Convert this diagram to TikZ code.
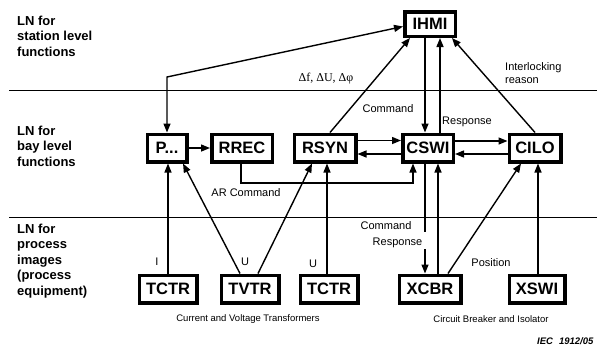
\documentclass[tikz,border=0pt]{standalone}
\usepackage{fontspec}
\setmainfont{Liberation Sans}
\newfontfamily\grserif{Liberation Serif}
\usetikzlibrary{arrows.meta,calc}
\begin{document}
\begin{tikzpicture}[x=1pt,y=-1pt,
  lnbox/.style={draw, line width=3.5pt, font=\bfseries\fontsize{16.5}{18}\selectfont,
    minimum height=27.5pt, inner sep=0pt},
  arr/.style={line width=1.4pt, -{Triangle[length=9pt,width=7pt]}},
  darr/.style={line width=1.4pt, {Triangle[length=9pt,width=7pt]}-{Triangle[length=9pt,width=7pt]}},
  conn/.style={line width=1.4pt},
  sep/.style={line width=0.8pt},
  lbl/.style={font=\fontsize{11}{13}\selectfont, inner sep=0pt},
  small/.style={font=\fontsize{9.5}{11}\selectfont, inner sep=0pt},
  lvl/.style={font=\bfseries\fontsize{13}{15.5}\selectfont, align=left, inner sep=0pt, anchor=north west}]
\useasboundingbox (0,0) rectangle (597,346);

% level separators
\coordinate (s1a) at (9,90);  \coordinate (s1b) at (597,90);
\coordinate (s2a) at (9,217); \coordinate (s2b) at (597,217);
\draw[sep] (s1a) -- (s1b);
\draw[sep] (s2a) -- (s2b);

% level labels
\node[lvl] (L1) at (17,15.5) {LN for\\station level\\functions};
\node[lvl] (L2) at (17,125.5) {LN for\\bay level\\functions};
\node[lvl] (L3) at (17,223.5) {LN for\\process\\images\\(process\\equipment)};

% boxes
\node[lnbox, minimum width=50.5pt, minimum height=24.5pt] (IHMI) at (430,24) {IHMI};
\node[lnbox, minimum width=39.5pt] (P) at (167,148) {P...};
\node[lnbox, minimum width=60.5pt] (RREC) at (242,148) {RREC};
\node[lnbox, minimum width=61.5pt] (RSYN) at (325,148) {RSYN};
\node[lnbox, minimum width=50.5pt] (CSWI) at (428,148) {CSWI};
\node[lnbox, minimum width=51.5pt] (CILO) at (535,148) {CILO};
\node[lnbox, minimum width=57.5pt] (TCTRa) at (168,289) {TCTR};
\node[lnbox, minimum width=57.5pt] (TVTR) at (250,289) {TVTR};
\node[lnbox, minimum width=57.5pt] (TCTRb) at (329,289) {TCTR};
\node[lnbox, minimum width=61.5pt] (XCBR) at (430,289) {XCBR};
\node[lnbox, minimum width=55.5pt] (XSWI) at (537,289) {XSWI};

% labels
\node[inner sep=0pt, font=\grserif\fontsize{12}{14}\selectfont] (dl) at (326,79) {Δf, ΔU, Δφ};
\node[lbl, anchor=west, align=left] (ilr) at (505,73.5) {Interlocking\\reason};
\node[lbl] (cmd1) at (388,109) {Command};
\node[lbl] (rsp1) at (467,122) {Response};
\node[lbl] (arc) at (246,193) {AR Command};
\node[lbl] (cmd2) at (386,226) {Command};
\node[lbl, fill=white, inner xsep=3pt, inner ysep=2pt] (rsp2) at (397.5,243) {Response};
\node[lbl] (li) at (157,262) {I};
\node[lbl] (lu1) at (245,262) {U};
\node[lbl] (lu2) at (313,264) {U};
\node[lbl] (pos) at (491,263) {Position};
\node[small] (cvt) at (248,319) {Current and Voltage Transformers};
\node[small] (cbi) at (491,319) {Circuit Breaker and Isolator};
\node[inner sep=0pt, anchor=base west, font=\bfseries\itshape\fontsize{9.5}{11}\selectfont] (iec) at (537,344.5) {IEC\hspace{6pt}1912/05};

% connectors
\coordinate (bend) at (167,77);
\draw[darr] ([yshift=-2.5pt]IHMI.west) -- (bend) -- (P.north);
\draw[arr] ([xshift=5pt]RSYN.north) -- ([xshift=-20pt]IHMI.south);
\draw[arr] ([xshift=-5pt]IHMI.south) -- ([xshift=-3pt]CSWI.north);
\draw[arr] ([xshift=12pt]CSWI.north) -- ([xshift=10pt]IHMI.south);
\draw[arr] (CILO.north) -- ([xshift=22pt]IHMI.south);

\draw[arr] (P.east) -- (RREC.west);
\draw[arr] ([yshift=7.5pt]RSYN.east) -- ([yshift=7.5pt]CSWI.west);
\draw[arr] ([yshift=-6pt]CSWI.west) -- ([yshift=-6pt]RSYN.east);
\draw[arr] ([yshift=7pt]CSWI.east) -- ([yshift=7pt]CILO.west);
\draw[arr] ([yshift=-6pt]CILO.west) -- ([yshift=-6pt]CSWI.east);
\draw[arr] ([xshift=-1pt]RREC.south) -- ++(0,19.5) -| ([xshift=-15pt]CSWI.south);

\draw[arr] (TCTRa.north) -- (TCTRa.north |- P.south);
\draw[arr] ([xshift=-10pt]TVTR.north) -- ([xshift=16pt]P.south);
\draw[arr] ([xshift=8pt]TVTR.north) -- ([xshift=-13pt]RSYN.south);
\draw[arr] ([xshift=-2pt]TCTRb.north) -- ([xshift=2pt]RSYN.south);

\draw[conn] ([xshift=-3pt]CSWI.south) -- ($([xshift=-3pt]CSWI.south)!0.62!([xshift=-5pt]XCBR.north)$);
\draw[arr] ($([xshift=-3pt]CSWI.south)!0.78!([xshift=-5pt]XCBR.north)$) -- ([xshift=-5pt]XCBR.north);
\draw[arr] ([xshift=8pt]XCBR.north) -- ([xshift=10pt]CSWI.south);
\draw[arr] ([xshift=18pt]XCBR.north) -- ([xshift=-14pt]CILO.south);
\draw[arr] ([xshift=1pt]XSWI.north) -- ([xshift=3pt]CILO.south);
\end{tikzpicture}
\end{document}
